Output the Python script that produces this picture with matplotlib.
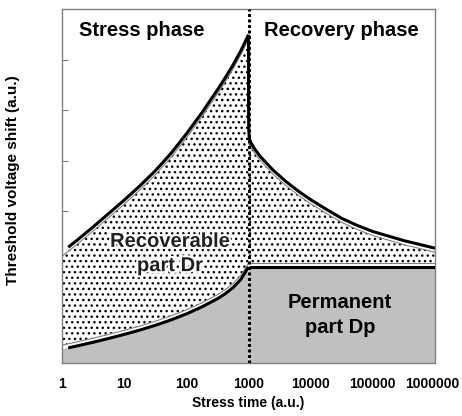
import matplotlib
matplotlib.use("Agg")
import matplotlib.pyplot as plt
import matplotlib.patheffects as pe
import matplotlib.transforms as mtransforms
import numpy as np

plt.rcParams['font.family'] = ['Liberation Sans', 'DejaVu Sans']
plt.rcParams['hatch.color'] = 'black'
plt.rcParams['hatch.linewidth'] = 1.0

# ---- data ----
t_stress = [1, 1.26, 1.78, 3.16, 5.62, 10, 17.8, 31.6, 56.2, 100, 178, 316, 422, 562, 750, 1000]
total_stress = [2.19, 2.29, 2.435, 2.69, 2.955, 3.22, 3.50, 3.80, 4.14, 4.53, 4.95, 5.40,
                5.64, 5.89, 6.17, 6.49]
perm_stress = [0.27, 0.30, 0.34, 0.41, 0.485, 0.565, 0.65, 0.745, 0.85, 0.97, 1.11, 1.27,
               1.37, 1.49, 1.65, 1.90]

t_recovery = [1000, 1001.5, 1004, 1010, 1025, 1047, 1122, 1260, 1585, 2455, 3981, 6310,
              10000, 17800, 31600, 56200, 100000, 316000, 1000000]
total_recovery = [6.49, 5.50, 4.90, 4.62, 4.48, 4.41, 4.33, 4.23, 4.07, 3.82, 3.59, 3.40,
                  3.23, 3.04, 2.86, 2.72, 2.60, 2.42, 2.27]
t_perm_recovery = [1000, 1000000]
perm_recovery = [1.90, 1.90]

x_ticks = [1, 10, 100, 1000, 10000, 100000, 1000000]
x_tick_labels = ["1", "10", "100", "1000", "10000", "100000", "1000000"]
y_ticks = [3, 4, 5, 6]

phase_labels = ["Stress phase", "Recovery phase"]
region_labels = ["Recoverable\npart Dr", "Permanent\npart Dp"]

# ---- figure ----
W, H = 462, 416
fig = plt.figure(figsize=(W / 100, H / 100), dpi=100)
ax = fig.add_axes([62 / W, (H - 363) / H, (435 - 62) / W, (363 - 9) / H])
ax.set_xscale('log')
ax.set_xlim(1, 1e6)
ax.set_ylim(0, 7)

off = 0.08
ts = np.array(t_stress); tot_s = np.array(total_stress); per_s = np.array(perm_stress)
tr = np.array(t_recovery); tot_r = np.array(total_recovery)

# permanent (gray) area
ax.fill_between(ts, 0, per_s, facecolor='#c0c0c0', edgecolor='none', zorder=1)
ax.fill_between(t_perm_recovery, 0, perm_recovery, facecolor='#c0c0c0', edgecolor='none', zorder=1)

# recoverable (dotted) area
ax.fill_between(ts, per_s + off, tot_s - off, facecolor='white', edgecolor='black',
                hatch='...', linewidth=0, zorder=1)
ax.fill_between(tr, perm_recovery[0] + off, tot_r - off, facecolor='white', edgecolor='black',
                hatch='...', linewidth=0, zorder=1)

# thin gray outlines of the dotted area
ax.plot(ts, tot_s - off, color='#808080', lw=0.8, zorder=2)
ax.plot(tr, tot_r - off, color='#808080', lw=0.8, zorder=2)
ax.plot(ts, per_s + off, color='#808080', lw=0.8, zorder=2)
ax.plot(t_perm_recovery, np.array(perm_recovery) + off, color='#808080', lw=0.8, zorder=2)

# black thick curves
kw = dict(color='black', lw=2.2, zorder=3, solid_capstyle='butt', solid_joinstyle='round')
ax.plot(ts[1:], tot_s[1:], **kw)
ax.plot(tr, tot_r, **kw)
ax.plot(ts[1:], per_s[1:], **kw)
ax.plot(t_perm_recovery, perm_recovery, **kw)

# phase separator
ax.axvline(1000, color='black', lw=2.2, linestyle=(0, (1.0, 0.8)), zorder=4)

# spines / ticks
for s in ax.spines.values():
    s.set_color('#808080')
    s.set_linewidth(1.0)
ax.set_xticks(x_ticks)
ax.set_xticklabels(x_tick_labels, fontsize=10, fontweight='bold')
ax.minorticks_off()
ax.tick_params(axis='x', length=0, pad=10)
last = ax.get_xticklabels()[-1]
last.set_transform(last.get_transform() +
                   mtransforms.ScaledTranslation(-3 / 100, 0, fig.dpi_scale_trans))
ax.set_yticks(y_ticks)
ax.set_yticklabels([])
ax.tick_params(axis='y', direction='in', length=4, color='#808080')

ax.set_xlabel("Stress time (a.u.)", fontsize=10, fontweight='bold', labelpad=4)
ax.set_ylabel("Threshold voltage shift (a.u.)", fontsize=11, fontweight='bold')

# texts
def fx(px):
    return (px - 62) / (435 - 62)

def fy(py):
    return (363 - py) / (363 - 9)

ax.yaxis.set_label_coords(fx(20), fy(180))

ax.text(fx(141.5), fy(30), phase_labels[0], transform=ax.transAxes, ha='center', va='center',
        fontsize=14.5, fontweight='bold', zorder=5)
ax.text(fx(341.5), fy(30), phase_labels[1], transform=ax.transAxes, ha='center', va='center',
        fontsize=14.5, fontweight='bold', zorder=5)
ax.text(fx(170), fy(253.5), region_labels[0], transform=ax.transAxes, ha='center', va='center',
        fontsize=14.5, fontweight='bold', linespacing=1.35, color='#202020', zorder=5,
        path_effects=[pe.withStroke(linewidth=3, foreground='white')])
ax.text(fx(340), fy(315), region_labels[1], transform=ax.transAxes, ha='center', va='center',
        fontsize=14.5, fontweight='bold', linespacing=1.35, zorder=5)

fig.savefig("out.png", dpi=100)
